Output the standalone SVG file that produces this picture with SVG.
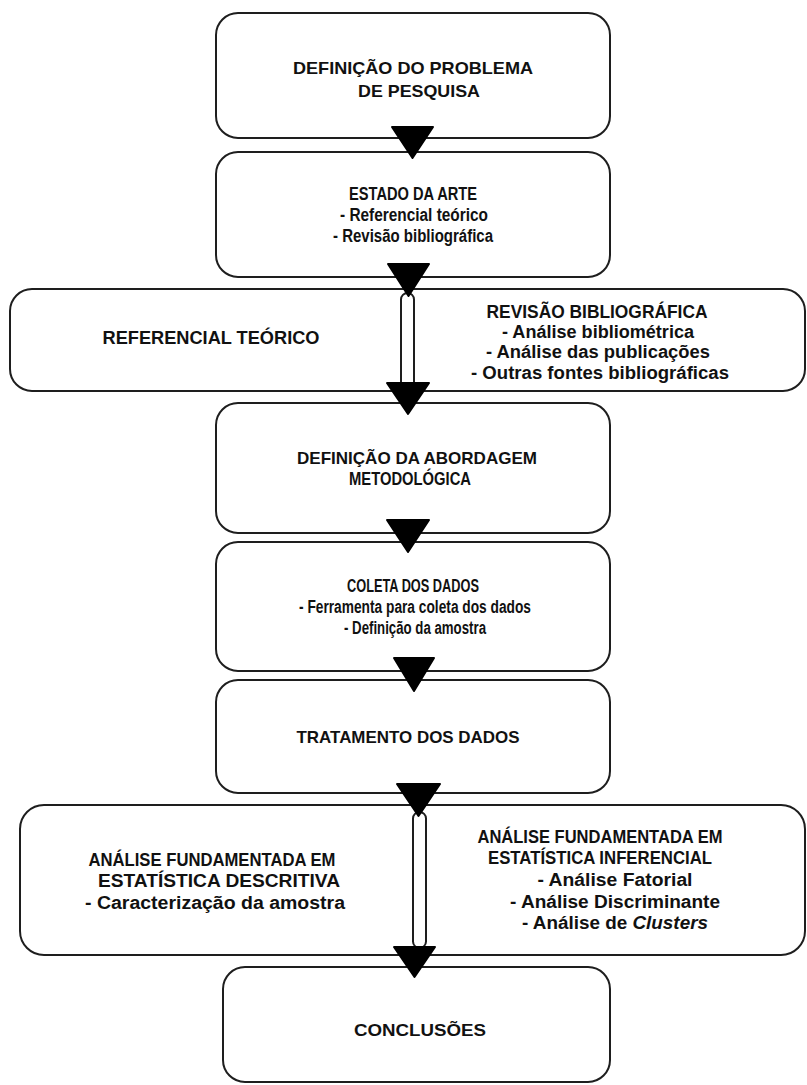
<svg xmlns="http://www.w3.org/2000/svg" width="807" height="1085" viewBox="0 0 807 1085">
  <style>
    .box { fill: #ffffff; stroke: #1e1e1e; stroke-width: 2; }
    .pill { fill: #ffffff; stroke: #1e1e1e; stroke-width: 2; }
    .arrow { fill: #000000; stroke: #000000; stroke-width: 2; stroke-linejoin: round; }
    text { font-family: "Liberation Sans", Arial, sans-serif; font-weight: bold; fill: #111111; text-anchor: middle; }
    .t { font-size: 17px; }
    .n { font-size: 18px; }
  </style>
  <rect width="807" height="1085" fill="#ffffff"/>

  <!-- Step boxes -->
  <g id="problema">
    <rect class="box" x="216" y="13" width="394" height="125" rx="22"/>
    <text class="t" x="413" y="74" textLength="240" lengthAdjust="spacingAndGlyphs">DEFINIÇÃO DO PROBLEMA</text>
    <text class="t" x="419" y="97" textLength="122" lengthAdjust="spacingAndGlyphs">DE PESQUISA</text>
  </g>

  <g id="estado-arte">
    <rect class="box" x="216" y="152" width="394" height="125" rx="22"/>
    <text class="n" x="413" y="200" textLength="128" lengthAdjust="spacingAndGlyphs">ESTADO  DA ARTE</text>
    <text class="n" x="414" y="221" textLength="148" lengthAdjust="spacingAndGlyphs">- Referencial teórico</text>
    <text class="n" x="413" y="242" textLength="160" lengthAdjust="spacingAndGlyphs">- Revisão bibliográfica</text>
  </g>

  <g id="referencial-revisao">
    <rect class="box" x="10" y="289" width="795" height="102" rx="22"/>
    <text class="n" x="211" y="344" textLength="217" lengthAdjust="spacingAndGlyphs">REFERENCIAL TEÓRICO</text>
    <text class="n" x="597" y="318" textLength="221" lengthAdjust="spacingAndGlyphs">REVISÃO BIBLIOGRÁFICA</text>
    <text class="n" x="598" y="338" textLength="192" lengthAdjust="spacingAndGlyphs">- Análise bibliométrica</text>
    <text class="n" x="598" y="358" textLength="224" lengthAdjust="spacingAndGlyphs">- Análise das publicações</text>
    <text class="n" x="600" y="379" textLength="258" lengthAdjust="spacingAndGlyphs">- Outras fontes bibliográficas</text>
  </g>

  <g id="abordagem">
    <rect class="box" x="216" y="403" width="394" height="130" rx="22"/>
    <text class="t" x="417" y="464" textLength="240" lengthAdjust="spacingAndGlyphs">DEFINIÇÃO DA ABORDAGEM</text>
    <text class="n" x="410" y="485" textLength="122" lengthAdjust="spacingAndGlyphs">METODOLÓGICA</text>
  </g>

  <g id="coleta">
    <rect class="box" x="216" y="542" width="394" height="129" rx="22"/>
    <text class="n" x="413" y="592" textLength="132" lengthAdjust="spacingAndGlyphs">COLETA DOS DADOS</text>
    <text class="n" x="415" y="613" textLength="232" lengthAdjust="spacingAndGlyphs">- Ferramenta para coleta dos dados</text>
    <text class="n" x="415" y="634" textLength="142" lengthAdjust="spacingAndGlyphs">- Definição da amostra</text>
  </g>

  <g id="tratamento">
    <rect class="box" x="216" y="680" width="394" height="113" rx="22"/>
    <text class="t" x="408" y="743" textLength="223" lengthAdjust="spacingAndGlyphs">TRATAMENTO  DOS DADOS</text>
  </g>

  <g id="analise">
    <rect class="box" x="20" y="805" width="785" height="150" rx="24"/>
    <text class="n" x="212" y="866" textLength="247" lengthAdjust="spacingAndGlyphs">ANÁLISE FUNDAMENTADA  EM</text>
    <text class="n" x="219" y="887" textLength="242" lengthAdjust="spacingAndGlyphs">ESTATÍSTICA  DESCRITIVA</text>
    <text class="n" x="215" y="909" textLength="260" lengthAdjust="spacingAndGlyphs">- Caracterização da amostra</text>
    <text class="n" x="600" y="843" textLength="245" lengthAdjust="spacingAndGlyphs">ANÁLISE FUNDAMENTADA  EM</text>
    <text class="n" x="600" y="864" textLength="224" lengthAdjust="spacingAndGlyphs">ESTATÍSTICA  INFERENCIAL</text>
    <text class="n" x="615" y="886" textLength="155" lengthAdjust="spacingAndGlyphs">- Análise Fatorial</text>
    <text class="n" x="615" y="908" textLength="210" lengthAdjust="spacingAndGlyphs">- Análise Discriminante</text>
    <text class="n" x="615" y="929" textLength="186" lengthAdjust="spacingAndGlyphs">- Análise de <tspan font-style="italic">Clusters</tspan></text>
  </g>

  <g id="conclusoes">
    <rect class="box" x="223" y="967" width="387" height="115" rx="22"/>
    <text class="t" x="420" y="1036" textLength="132" lengthAdjust="spacingAndGlyphs">CONCLUSÕES</text>
  </g>

  <!-- Flow connectors: capsule links and arrowheads -->
  <g id="connectors">
    <rect class="pill" x="401" y="293" width="13" height="96" rx="6.5"/>
    <rect class="pill" x="413" y="812" width="13" height="136" rx="6.5"/>
    <polygon class="arrow" points="392,127 433,127 412.5,158"/>
    <polygon class="arrow" points="388,264 429,264 408.5,296"/>
    <polygon class="arrow" points="387,383 429,383 408,414"/>
    <polygon class="arrow" points="387,520 429,520 408,552"/>
    <polygon class="arrow" points="394,658 434,658 414,691"/>
    <polygon class="arrow" points="397,784 440,784 418.5,816"/>
    <polygon class="arrow" points="394,947 435,947 414.5,977"/>
  </g>
</svg>
